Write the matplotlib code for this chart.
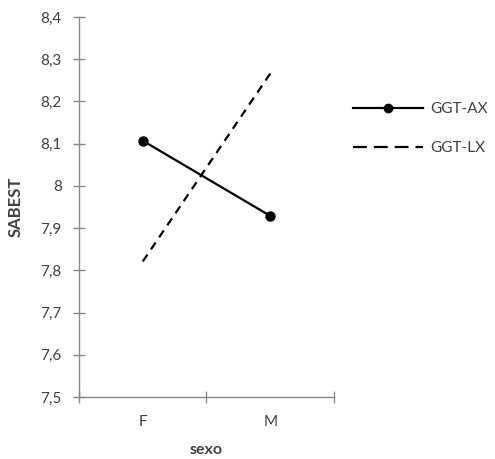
import matplotlib
matplotlib.use("Agg")
import matplotlib.pyplot as plt
from matplotlib.lines import Line2D

# -----------------------------------------------------
# DATA
# -----------------------------------------------------
categories = ["F", "M"]
ggt_ax = [8.107, 7.929]
ggt_lx = [7.821, 8.266]
series_names = ["GGT-AX", "GGT-LX"]
y_ticks = [7.5, 7.6, 7.7, 7.8, 7.9, 8.0, 8.1, 8.2, 8.3, 8.4]
y_labels = ["7,5", "7,6", "7,7", "7,8", "7,9", "8", "8,1", "8,2", "8,3", "8,4"]

plt.rcParams["font.family"] = ["Lato", "DejaVu Sans"]
plt.rcParams["lines.scale_dashes"] = False

axis_col = "#888888"
text_col = "#404040"

fig = plt.figure(figsize=(4.95, 4.59), dpi=100)
ax = fig.add_axes([0.1596, 0.135, 0.5151, 0.828])

x = list(range(len(categories)))
ax.plot(x, ggt_ax, color="black", lw=1.6, marker="o", ms=6.5)
ax.plot(x, ggt_lx, color="black", lw=1.6, dashes=(6, 4.5))

ax.set_xlim(-0.5, len(categories) - 0.5)
ax.set_ylim(7.5, 8.4)

# category boundaries get tick marks, labels sit in between
ax.set_xticks([i - 0.5 for i in range(len(categories) + 1)])
ax.set_xticklabels([])
ax.set_xticks(x, minor=True)
ax.set_xticklabels(categories, minor=True)
ax.tick_params(axis="x", which="minor", length=0, pad=13,
               labelsize=11, labelcolor=text_col)
ax.tick_params(axis="x", which="major", direction="inout", length=9,
               color=axis_col, width=1)

ax.set_yticks(y_ticks)
ax.set_yticklabels(y_labels)
ax.tick_params(axis="y", direction="inout", length=9, color=axis_col,
               width=1, labelsize=11, labelcolor=text_col, pad=8)

for side in ["top", "right"]:
    ax.spines[side].set_visible(False)
for side in ["left", "bottom"]:
    ax.spines[side].set_color(axis_col)
    ax.spines[side].set_linewidth(1)

ax.set_xlabel("sexo", fontsize=11.5, fontweight="bold", color=text_col, labelpad=10)
ax.set_ylabel("SABEST", fontsize=12, fontweight="bold", color=text_col, labelpad=12)

handles = [
    Line2D([], [], color="black", lw=1.6, marker="o", ms=6),
    Line2D([], [], color="black", lw=1.6, dashes=(10, 5)),
]
fig.legend(handles, series_names, loc="upper left", bbox_to_anchor=(0.685, 0.808),
           frameon=False, fontsize=11, handlelength=4.6, handletextpad=0.5,
           labelspacing=1.65, labelcolor=text_col, numpoints=1)

fig.savefig("out.png", dpi=100)
